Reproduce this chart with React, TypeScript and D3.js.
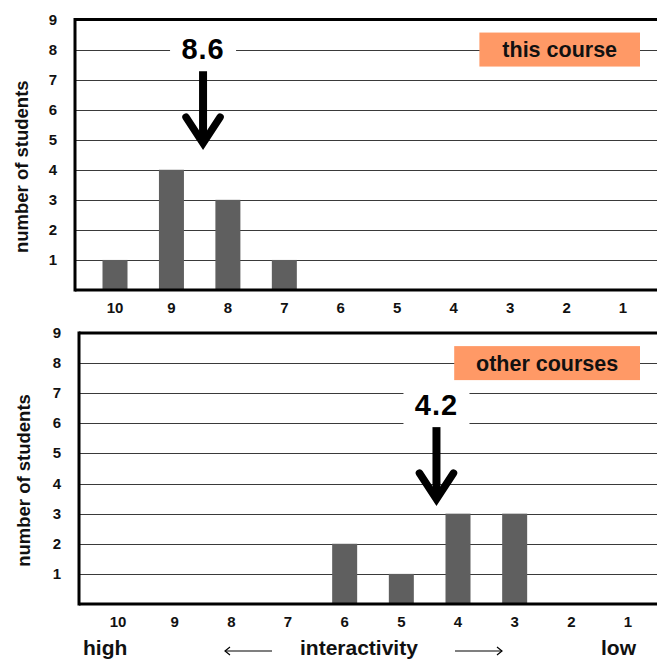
import React from "react";
import * as d3 from "d3";

const categories = ["10", "9", "8", "7", "6", "5", "4", "3", "2", "1"];
const thisCourse = [1, 4, 3, 1, 0, 0, 0, 0, 0, 0];
const otherCourses = [0, 0, 0, 0, 2, 1, 3, 3, 0, 0];
const yTicks = [1, 2, 3, 4, 5, 6, 7, 8, 9];
const panelNames = ["this course", "other courses"];
const meanLabels = ["8.6", "4.2"];
const arrowAt = [8.44, 4.38];
const arrowTip = [4.75, 3.35];

const FONT = "'Liberation Sans', Arial, sans-serif";

type PanelProps = {
  values: number[];
  name: string;
  mean: string;
  ax: number;
  tipV: number;
  left: number;
  top: number;
  bottom: number;
  xr: [number, number];
  labelX: number;
};

function Panel({ values, name, mean, ax, tipV, left, top, bottom, xr, labelX }: PanelProps) {
  const right = 680;
  const x = d3.scalePoint<string>().domain(categories).range(xr);
  const xv = d3.scaleLinear().domain([10, 1]).range(xr);
  const y = d3.scaleLinear().domain([0, 9]).range([bottom, top]);
  const bw = 25;
  const axp = xv(ax);
  const tip = y(tipV);
  const shaftTop = tip - 76;
  const legendW = name.length * 12.6 + 22;
  const legendR = 640;
  return (
    <g>
      {yTicks.slice(0, 8).map((t) => (
        <line key={t} x1={left} x2={right} y1={Math.round(y(t)) + 0.5} y2={Math.round(y(t)) + 0.5} stroke="#3a3a3a" strokeWidth={1} />
      ))}
      {values.map((v, i) =>
        v > 0 ? (
          <rect key={i} x={(x(categories[i]) as number) - bw / 2} y={y(v)} width={bw} height={y(0) - y(v)} fill="#5f5f5f" />
        ) : null
      )}
      <line x1={left} x2={right} y1={y(9)} y2={y(9)} stroke="#000" strokeWidth={3} />
      <line x1={left} x2={right} y1={y(0)} y2={y(0)} stroke="#000" strokeWidth={3} />
      <line x1={left} x2={left} y1={y(9) - 1.5} y2={y(0) + 1.5} stroke="#000" strokeWidth={3} />
      {yTicks.map((t) => (
        <text key={t} x={left - 22} y={y(t) + 5} textAnchor="middle" fontFamily={FONT} fontWeight="bold" fontSize={15} fill="#111">
          {t}
        </text>
      ))}
      {categories.map((c) => (
        <text key={c} x={x(c)} y={bottom + 23} textAnchor="middle" fontFamily={FONT} fontWeight="bold" fontSize={15} fill="#111">
          {c}
        </text>
      ))}
      <text
        transform={`translate(${labelX},${(y(0) + y(9)) / 2 + 12}) rotate(-90)`}
        textAnchor="middle"
        fontFamily={FONT}
        fontWeight="bold"
        fontSize={18.5}
        fill="#111"
      >
        number of students
      </text>
      {/* legend */}
      <rect x={legendR - legendW} y={y(8) - 17} width={legendW} height={34} fill="#FF9966" />
      <text x={legendR - legendW / 2} y={y(8) + 7.5} textAnchor="middle" fontFamily={FONT} fontWeight="bold" fontSize={21.5} fill="#111">
        {name}
      </text>
      {/* mean annotation */}
      <rect x={axp - 33} y={shaftTop - 40} width={66} height={38} fill="#fff" />
      <text x={axp} y={shaftTop - 12} textAnchor="middle" fontFamily={FONT} fontWeight="bold" fontSize={29} letterSpacing={1} fill="#000">
        {mean}
      </text>
      <line x1={axp} x2={axp} y1={shaftTop} y2={tip - 4} stroke="#000" strokeWidth={8} />
      <polyline
        points={`${axp - 17},${tip - 30} ${axp},${tip - 4} ${axp + 17},${tip - 30}`}
        fill="none"
        stroke="#000"
        strokeWidth={7.5}
        strokeLinecap="round"
        strokeLinejoin="miter"
      />
    </g>
  );
}

export default function App() {
  const ay = 651;
  return (
    <svg width={657} height={661} style={{ position: "absolute", left: 0, top: 0, background: "#fff" }}>
      <rect x={0} y={0} width={657} height={661} fill="#fff" />
      <Panel
        values={thisCourse}
        name={panelNames[0]}
        mean={meanLabels[0]}
        ax={arrowAt[0]}
        tipV={arrowTip[0]}
        left={75}
        top={19.5}
        bottom={290}
        xr={[115, 623]}
        labelX={28}
      />
      <Panel
        values={otherCourses}
        name={panelNames[1]}
        mean={meanLabels[1]}
        ax={arrowAt[1]}
        tipV={arrowTip[1]}
        left={79}
        top={333}
        bottom={604}
        xr={[118, 628]}
        labelX={30}
      />
      <text x={83} y={655} fontFamily={FONT} fontWeight="bold" fontSize={21} fill="#111">high</text>
      <text x={300} y={655} fontFamily={FONT} fontWeight="bold" fontSize={21} fill="#111">interactivity</text>
      <text x={601} y={655} fontFamily={FONT} fontWeight="bold" fontSize={21} fill="#111">low</text>
      <line x1={225} x2={272} y1={ay} y2={ay} stroke="#000" strokeWidth={1.2} />
      <polyline points={`230,${ay - 4} 225,${ay} 230,${ay + 4}`} fill="none" stroke="#000" strokeWidth={1.2} />
      <line x1={455} x2={502} y1={ay} y2={ay} stroke="#000" strokeWidth={1.2} />
      <polyline points={`497,${ay - 4} 502,${ay} 497,${ay + 4}`} fill="none" stroke="#000" strokeWidth={1.2} />
    </svg>
  );
}
